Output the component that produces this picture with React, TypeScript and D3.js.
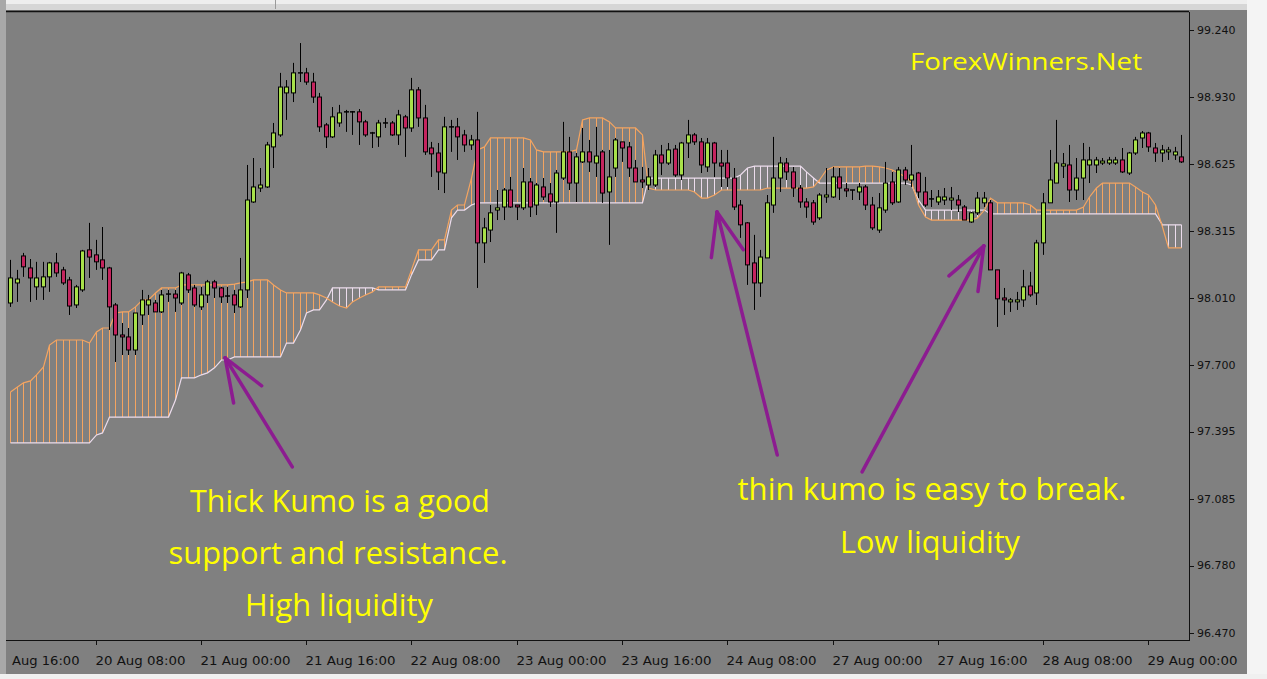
import React from "react";
import * as d3 from "d3";

const W = 1267;
const H = 679;

// Right price axis labels (as printed by the terminal)
const priceTicks = [99.24, 98.93, 98.625, 98.315, 98.01, 97.7, 97.395, 97.085, 96.78, 96.47];

// Time axis labels, one every 16 hourly bars (the first one is cut by the window edge)
const timeLabels = [
  "Aug 16:00", "20 Aug 08:00", "21 Aug 00:00", "21 Aug 16:00", "22 Aug 08:00", "23 Aug 00:00",
  "23 Aug 16:00", "24 Aug 08:00", "27 Aug 00:00", "27 Aug 16:00", "28 Aug 08:00", "29 Aug 00:00",
];
const timeLabelBars = [-3, 13, 29, 45, 61, 77, 93, 109, 125, 141, 157, 173];

// Hourly candles
const open = [
  97.986, 98.078, 98.202, 98.147, 98.06, 98.06, 98.106, 98.17, 98.138, 98.092,
  97.977, 98.046, 98.23, 98.207, 98.184, 98.147, 97.977, 97.839, 97.83, 97.77,
  97.931, 97.977, 97.986, 97.945, 98.023, 98.027, 97.986, 98.115, 98.055, 97.968,
  98.023, 98.083, 98.055, 98.018, 98.023, 97.968, 98.046, 98.45, 98.514, 98.519,
  98.703, 98.758, 98.951, 98.951, 99.038, 99.043, 99.001, 98.932, 98.804, 98.749,
  98.813, 98.864, 98.864, 98.864, 98.818, 98.763, 98.749, 98.808, 98.813, 98.758,
  98.841, 98.79, 98.965, 98.836, 98.698, 98.675, 98.583, 98.795, 98.795, 98.758,
  98.712, 98.735, 98.262, 98.321, 98.413, 98.427, 98.505, 98.436, 98.423, 98.542,
  98.436, 98.519, 98.487, 98.45, 98.56, 98.68, 98.537, 98.634, 98.68, 98.629,
  98.68, 98.496, 98.606, 98.726, 98.703, 98.606, 98.551, 98.528, 98.528, 98.666,
  98.629, 98.693, 98.574, 98.721, 98.758, 98.726, 98.611, 98.721, 98.629, 98.629,
  98.56, 98.436, 98.354, 98.17, 98.078, 98.193, 98.436, 98.56, 98.629, 98.588,
  98.514, 98.45, 98.446, 98.377, 98.473, 98.473, 98.565, 98.51, 98.505, 98.496,
  98.519, 98.436, 98.321, 98.413, 98.542, 98.45, 98.597, 98.551, 98.583, 98.496,
  98.464, 98.45, 98.459, 98.459, 98.459, 98.427, 98.358, 98.4, 98.446, 98.446,
  98.138, 98.009, 97.991, 97.991, 98.0, 98.064, 98.032, 98.262, 98.446, 98.537,
  98.615, 98.62, 98.505, 98.56, 98.62, 98.62, 98.629, 98.629, 98.629, 98.643,
  98.583, 98.675, 98.744, 98.767, 98.698, 98.675, 98.68, 98.666, 98.657,
];
const high = [
  98.184, 98.138, 98.216, 98.188, 98.175, 98.175, 98.175, 98.216, 98.152, 98.106,
  98.069, 98.23, 98.354, 98.276, 98.335, 98.152, 97.986, 97.894, 97.871, 97.94,
  98.046, 98.023, 98.0, 98.046, 98.046, 98.046, 98.129, 98.124, 98.069, 98.06,
  98.092, 98.092, 98.06, 98.06, 98.046, 98.193, 98.62, 98.652, 98.606, 98.726,
  98.813, 99.043, 99.01, 99.089, 99.18, 99.066, 99.043, 98.951, 98.813, 98.886,
  98.896, 98.873, 98.868, 98.877, 98.827, 98.772, 98.827, 98.836, 98.822, 98.873,
  98.85, 99.02, 98.978, 98.896, 98.726, 98.721, 98.841, 98.827, 98.836, 98.781,
  98.758, 98.864, 98.377, 98.436, 98.505, 98.514, 98.565, 98.436, 98.606, 98.56,
  98.537, 98.56, 98.537, 98.597, 98.818, 98.749, 98.675, 98.79, 98.735, 98.795,
  98.689, 98.689, 98.744, 98.726, 98.726, 98.643, 98.611, 98.606, 98.689, 98.712,
  98.721, 98.712, 98.726, 98.827, 98.767, 98.744, 98.744, 98.726, 98.689, 98.689,
  98.606, 98.459, 98.358, 98.299, 98.23, 98.482, 98.749, 98.657, 98.652, 98.611,
  98.528, 98.468, 98.459, 98.491, 98.606, 98.611, 98.606, 98.537, 98.505, 98.537,
  98.528, 98.473, 98.491, 98.634, 98.588, 98.611, 98.611, 98.712, 98.588, 98.565,
  98.505, 98.505, 98.514, 98.519, 98.482, 98.436, 98.404, 98.496, 98.496, 98.459,
  98.138, 98.055, 98.009, 98.037, 98.138, 98.129, 98.276, 98.491, 98.689, 98.827,
  98.675, 98.712, 98.652, 98.721, 98.703, 98.657, 98.652, 98.657, 98.657, 98.698,
  98.68, 98.749, 98.776, 98.772, 98.721, 98.712, 98.703, 98.703, 98.758,
];
const low = [
  97.968, 97.991, 98.106, 97.991, 98.0, 98.0, 98.037, 98.106, 98.069, 97.931,
  97.963, 98.037, 98.101, 98.138, 98.092, 97.862, 97.715, 97.747, 97.747, 97.747,
  97.885, 97.931, 97.945, 97.94, 97.991, 97.945, 97.977, 98.032, 97.968, 97.954,
  97.986, 98.009, 97.986, 97.986, 97.94, 97.963, 98.009, 98.446, 98.496, 98.514,
  98.606, 98.749, 98.827, 98.909, 99.001, 98.988, 98.905, 98.772, 98.698, 98.744,
  98.795, 98.772, 98.758, 98.712, 98.749, 98.698, 98.703, 98.79, 98.753, 98.712,
  98.657, 98.772, 98.795, 98.666, 98.565, 98.505, 98.491, 98.68, 98.643, 98.68,
  98.689, 98.055, 98.17, 98.266, 98.367, 98.367, 98.423, 98.367, 98.413, 98.381,
  98.39, 98.459, 98.427, 98.308, 98.551, 98.505, 98.45, 98.629, 98.588, 98.565,
  98.446, 98.253, 98.565, 98.634, 98.565, 98.542, 98.514, 98.505, 98.519, 98.574,
  98.62, 98.565, 98.551, 98.652, 98.712, 98.583, 98.588, 98.565, 98.519, 98.519,
  98.413, 98.285, 98.069, 97.954, 98.014, 98.193, 98.4, 98.496, 98.551, 98.473,
  98.423, 98.377, 98.345, 98.367, 98.446, 98.468, 98.459, 98.473, 98.459, 98.459,
  98.413, 98.321, 98.308, 98.4, 98.436, 98.446, 98.528, 98.519, 98.468, 98.427,
  98.427, 98.436, 98.436, 98.413, 98.404, 98.367, 98.354, 98.39, 98.427, 98.138,
  97.876, 97.931, 97.945, 97.954, 97.968, 98.014, 97.977, 98.207, 98.446, 98.537,
  98.56, 98.45, 98.459, 98.459, 98.537, 98.583, 98.62, 98.62, 98.62, 98.583,
  98.574, 98.666, 98.698, 98.68, 98.634, 98.634, 98.643, 98.643, 98.629,
];
const close = [
  98.101, 98.096, 98.152, 98.101, 98.101, 98.106, 98.17, 98.124, 98.078, 97.972,
  98.06, 98.225, 98.197, 98.175, 98.147, 97.968, 97.839, 97.83, 97.77, 97.94,
  98.0, 98.0, 97.945, 98.023, 98.027, 98.009, 98.124, 98.046, 97.977, 98.023,
  98.083, 98.055, 98.014, 98.014, 97.977, 98.046, 98.459, 98.519, 98.528, 98.712,
  98.767, 98.978, 98.978, 99.043, 99.043, 99.001, 98.932, 98.795, 98.749, 98.841,
  98.859, 98.859, 98.859, 98.818, 98.758, 98.767, 98.813, 98.813, 98.758, 98.85,
  98.79, 98.965, 98.836, 98.68, 98.671, 98.588, 98.795, 98.79, 98.749, 98.712,
  98.735, 98.262, 98.331, 98.4, 98.423, 98.505, 98.427, 98.427, 98.542, 98.427,
  98.528, 98.473, 98.45, 98.583, 98.68, 98.537, 98.657, 98.68, 98.634, 98.661,
  98.491, 98.565, 98.735, 98.698, 98.606, 98.542, 98.542, 98.565, 98.666, 98.629,
  98.689, 98.574, 98.721, 98.758, 98.726, 98.62, 98.721, 98.629, 98.615, 98.56,
  98.427, 98.345, 98.161, 98.078, 98.197, 98.446, 98.56, 98.629, 98.588, 98.514,
  98.45, 98.427, 98.358, 98.482, 98.482, 98.565, 98.514, 98.501, 98.501, 98.519,
  98.436, 98.331, 98.423, 98.537, 98.446, 98.597, 98.551, 98.574, 98.496, 98.436,
  98.459, 98.473, 98.473, 98.468, 98.436, 98.367, 98.4, 98.468, 98.468, 98.138,
  98.005, 98.0, 98.0, 98.0, 98.06, 98.023, 98.262, 98.446, 98.551, 98.629,
  98.625, 98.505, 98.56, 98.643, 98.643, 98.643, 98.638, 98.643, 98.643, 98.588,
  98.675, 98.735, 98.767, 98.703, 98.675, 98.689, 98.689, 98.68, 98.634,
];

// Ichimoku cloud: Senkou Span A and Senkou Span B
const spanA = [
  97.577, 97.6, 97.619, 97.628, 97.656, 97.692, 97.793, 97.816, 97.816, 97.816,
  97.816, 97.816, 97.802, 97.853, 97.871, 97.871, 97.94, 97.945, 97.945, 97.968,
  98.0, 98.0, 98.032, 98.055, 98.055, 98.055, 98.069, 98.069, 98.069, 98.069,
  98.069, 98.069, 98.069, 98.069, 98.073, 98.078, 98.083, 98.092, 98.092, 98.092,
  98.069, 98.046, 98.032, 98.032, 98.032, 98.032, 98.032, 98.023, 98.009, 97.991,
  97.972, 97.963, 97.991, 98.009, 98.023, 98.037, 98.06, 98.06, 98.06, 98.06,
  98.06, 98.138, 98.23, 98.23, 98.23, 98.276, 98.276, 98.413, 98.436, 98.436,
  98.56, 98.689, 98.703, 98.744, 98.744, 98.744, 98.744, 98.744, 98.744, 98.735,
  98.689, 98.68, 98.68, 98.68, 98.68, 98.68, 98.689, 98.827, 98.836, 98.836,
  98.836, 98.818, 98.79, 98.79, 98.79, 98.79, 98.758, 98.514, 98.505, 98.505,
  98.505, 98.505, 98.505, 98.505, 98.496, 98.468, 98.468, 98.482, 98.505, 98.505,
  98.505, 98.505, 98.505, 98.505, 98.505, 98.514, 98.514, 98.514, 98.514, 98.514,
  98.514, 98.514, 98.519, 98.551, 98.597, 98.611, 98.611, 98.611, 98.611, 98.611,
  98.615, 98.615, 98.611, 98.606, 98.597, 98.583, 98.565, 98.542, 98.436, 98.381,
  98.367, 98.367, 98.367, 98.367, 98.367, 98.367, 98.367, 98.377, 98.413, 98.468,
  98.446, 98.446, 98.446, 98.446, 98.446, 98.436, 98.413, 98.413, 98.413, 98.413,
  98.413, 98.413, 98.413, 98.427, 98.473, 98.514, 98.537, 98.537, 98.537, 98.537,
  98.537, 98.519, 98.496, 98.482, 98.436, 98.335, 98.239, 98.239, 98.239,
];
const spanB = [
  97.343, 97.343, 97.343, 97.343, 97.343, 97.343, 97.343, 97.343, 97.343, 97.343,
  97.343, 97.343, 97.343, 97.38, 97.389, 97.462, 97.462, 97.462, 97.462, 97.462,
  97.462, 97.462, 97.462, 97.462, 97.462, 97.54, 97.642, 97.642, 97.642, 97.656,
  97.665, 97.688, 97.724, 97.724, 97.738, 97.738, 97.738, 97.738, 97.738, 97.738,
  97.738, 97.738, 97.802, 97.802, 97.862, 97.94, 97.954, 97.954, 98.0, 98.055,
  98.055, 98.055, 98.055, 98.055, 98.055, 98.055, 98.046, 98.046, 98.046, 98.046,
  98.046, 98.115, 98.184, 98.184, 98.184, 98.23, 98.23, 98.377, 98.413, 98.413,
  98.436, 98.446, 98.446, 98.446, 98.446, 98.446, 98.446, 98.446, 98.446, 98.446,
  98.446, 98.446, 98.446, 98.446, 98.446, 98.446, 98.446, 98.446, 98.446, 98.446,
  98.446, 98.446, 98.446, 98.446, 98.446, 98.446, 98.446, 98.56, 98.56, 98.56,
  98.56, 98.56, 98.56, 98.56, 98.56, 98.56, 98.56, 98.56, 98.56, 98.56,
  98.56, 98.574, 98.606, 98.615, 98.615, 98.615, 98.615, 98.615, 98.615, 98.615,
  98.615, 98.588, 98.56, 98.537, 98.537, 98.537, 98.537, 98.537, 98.537, 98.537,
  98.537, 98.537, 98.537, 98.537, 98.537, 98.537, 98.537, 98.528, 98.459, 98.413,
  98.413, 98.413, 98.413, 98.413, 98.413, 98.413, 98.413, 98.413, 98.413, 98.395,
  98.395, 98.395, 98.395, 98.395, 98.395, 98.395, 98.395, 98.395, 98.395, 98.395,
  98.395, 98.395, 98.395, 98.395, 98.395, 98.395, 98.395, 98.395, 98.395, 98.395,
  98.395, 98.395, 98.395, 98.395, 98.395, 98.345, 98.345, 98.345, 98.345,
];

// Annotation arrows: tip and tail in (bar index, price)
const arrowTips = [
  [32.7, 97.734],
  [107.45, 98.404],
  [148.0, 98.248],
];
const arrowTails = [
  [42.9, 97.233],
  [116.6, 97.288],
  [129.5, 97.21],
];

const BG = "#808080";
const UP = "#a8e04a";
const DOWN = "#c4245e";
const SAND = "#f4a460";
const THISTLE = "#ecdcec";
const PURPLE = "#8c1c90";
const YELLOW = "#ffff00";

export default function App() {
  const n = open.length;
  const idx = d3.range(n);
  const x = d3.scaleLinear().domain([0, 178]).range([10, 10 + 178 * 6.58]);
  const y = d3.scaleLinear().domain([96.47, 99.24]).range([633, 30]);

  const px = (i: number) => Math.round(x(i)) + 0.5;

  const lineA = d3.line<number>().x((i) => px(i)).y((i) => y(spanA[i]));
  const lineB = d3.line<number>().x((i) => px(i)).y((i) => y(spanB[i]));

  const plotL = 6;
  const plotT = 12;
  const plotR = 1189;
  const plotB = 640;

  const arrowHead = (tip: number[], tail: number[]) => {
    const tx = x(tip[0]);
    const ty = y(tip[1]);
    const bx = x(tail[0]);
    const by = y(tail[1]);
    const ang = Math.atan2(by - ty, bx - tx);
    const a = (21 * Math.PI) / 180;
    const len = 46;
    const p1 = [tx + len * Math.cos(ang + a), ty + len * Math.sin(ang + a)];
    const p2 = [tx + len * Math.cos(ang - a), ty + len * Math.sin(ang - a)];
    return { tx, ty, bx, by, p1, p2 };
  };

  const annFont = "'Open Sans', 'DejaVu Sans', sans-serif";

  return (
    <svg
      width={W}
      height={H}
      viewBox={`0 0 ${W} ${H}`}
      style={{ position: "absolute", left: 0, top: 0, display: "block" }}
    >
      <rect x={0} y={0} width={W} height={H} fill={BG} />
      {/* window edges */}
      <rect x={0} y={0} width={W} height={10} fill="#d6d6d6" />
      <rect x={0} y={0} width={W} height={4} fill="#eeeeee" />
      <rect x={0} y={0} width={6} height={H} fill="#a8a8a8" />
      <rect x={1247} y={0} width={W - 1247} height={H} fill="#f4f4f4" />
      <rect x={0} y={674} width={W} height={H - 674} fill="#f0f0f0" />
      <rect x={6} y={10} width={1241} height={664} fill={BG} />
      <line x1={275.5} x2={275.5} y1={0} y2={9} stroke="#9a9a9a" />

      <defs>
        <clipPath id="plotClip">
          <rect x={plotL} y={plotT} width={plotR - plotL} height={plotB - plotT} />
        </clipPath>
      </defs>

      <g clipPath="url(#plotClip)">
        {/* kumo hatching */}
        {idx.map((i) => (
          <line
            key={"h" + i}
            x1={px(i)}
            x2={px(i)}
            y1={y(spanA[i])}
            y2={y(spanB[i])}
            stroke={spanA[i] >= spanB[i] ? SAND : THISTLE}
            strokeWidth={1}
          />
        ))}
        <path d={lineB(idx) || ""} fill="none" stroke={THISTLE} strokeWidth={1.2} />
        <path d={lineA(idx) || ""} fill="none" stroke={SAND} strokeWidth={1.2} />

        {/* candles */}
        {idx.map((i) => {
          const o = open[i];
          const c = close[i];
          const top = y(Math.max(o, c));
          const bot = y(Math.min(o, c));
          const cx = px(i);
          const h = bot - top;
          return (
            <g key={"c" + i}>
              <line x1={cx} x2={cx} y1={y(high[i])} y2={y(low[i])} stroke="#000" strokeWidth={1} />
              {h < 1.5 ? (
                <line x1={cx - 2.5} x2={cx + 2.5} y1={top} y2={top} stroke="#000" strokeWidth={1.5} />
              ) : (
                <rect
                  x={cx - 2}
                  y={top}
                  width={4}
                  height={h}
                  fill={c >= o ? UP : DOWN}
                  stroke="#000"
                  strokeWidth={1}
                />
              )}
            </g>
          );
        })}
      </g>

      {/* frame */}
      <line x1={plotL} x2={plotR} y1={plotT - 0.5} y2={plotT - 0.5} stroke="#111" strokeWidth={1.5} />
      <line x1={plotR + 0.5} x2={plotR + 0.5} y1={plotT} y2={plotB} stroke="#111" strokeWidth={1} />
      <line x1={plotL} x2={plotR + 1} y1={plotB + 0.5} y2={plotB + 0.5} stroke="#111" strokeWidth={1} />

      {/* price axis */}
      {priceTicks.map((v) => (
        <g key={"p" + v}>
          <line x1={plotR + 1} x2={plotR + 5} y1={Math.round(y(v)) + 0.5} y2={Math.round(y(v)) + 0.5} stroke="#111" />
          <text
            x={plotR + 8}
            y={y(v)}
            dy="0.35em"
            fontFamily="'DejaVu Sans', sans-serif"
            fontSize={11}
            fill="#111"
          >
            {v.toFixed(3)}
          </text>
        </g>
      ))}

      {/* time axis: every label ends ~89px right of its tick */}
      {timeLabels.map((t, k) => {
        const tx = px(timeLabelBars[k]);
        return (
          <g key={"t" + k}>
            <line x1={tx} x2={tx} y1={plotB} y2={plotB + 5} stroke="#111" />
            <text
              x={tx + 89}
              y={665}
              textAnchor="end"
              fontFamily="'DejaVu Sans', sans-serif"
              fontSize={12}
              fill="#111"
              textLength={t.length * 7.5}
              lengthAdjust="spacingAndGlyphs"
            >
              {t}
            </text>
          </g>
        );
      })}

      {/* arrows */}
      {arrowTips.map((tip, k) => {
        const a = arrowHead(tip, arrowTails[k]);
        return (
          <g key={"a" + k} stroke={PURPLE} strokeWidth={3.5} strokeLinecap="round" fill="none">
            <line x1={a.bx} y1={a.by} x2={a.tx} y2={a.ty} />
            <line x1={a.tx} y1={a.ty} x2={a.p1[0]} y2={a.p1[1]} />
            <line x1={a.tx} y1={a.ty} x2={a.p2[0]} y2={a.p2[1]} />
          </g>
        );
      })}

      {/* annotations */}
      <g fill={YELLOW} fontFamily={annFont} textAnchor="middle">
        <text x={1026} y={70} fontSize={24} textLength={232} lengthAdjust="spacingAndGlyphs">
          ForexWinners.Net
        </text>
        <text x={340} y={512} fontSize={31} textLength={300} lengthAdjust="spacingAndGlyphs">
          Thick Kumo is a good
        </text>
        <text x={338} y={564} fontSize={31} textLength={339} lengthAdjust="spacingAndGlyphs">
          support and resistance.
        </text>
        <text x={339} y={616} fontSize={31} textLength={188} lengthAdjust="spacingAndGlyphs">
          High liquidity
        </text>
        <text x={932} y={500} fontSize={31} textLength={389} lengthAdjust="spacingAndGlyphs">
          thin kumo is easy to break.
        </text>
        <text x={930} y={553} fontSize={31} textLength={180} lengthAdjust="spacingAndGlyphs">
          Low liquidity
        </text>
      </g>
    </svg>
  );
}
